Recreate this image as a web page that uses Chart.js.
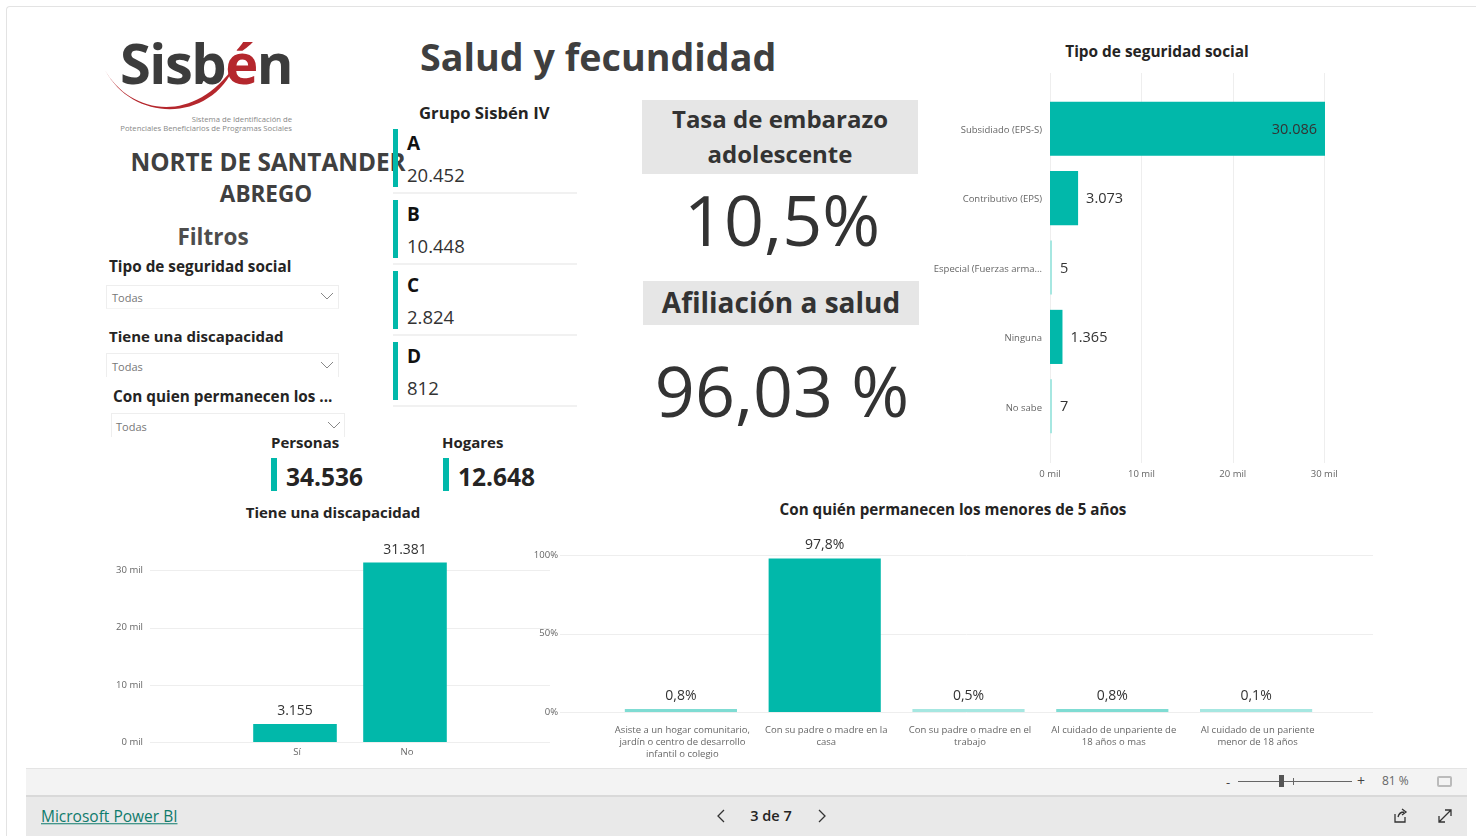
<!DOCTYPE html>
<html lang="es">
<head>
<meta charset="utf-8">
<title>Salud y fecundidad</title>
<script src="https://cdn.jsdelivr.net/npm/chart.js@4"></script>
<style>
  html, body { margin: 0; padding: 0; background: #fff; }
  body { width: 1476px; height: 840px; position: relative; overflow: hidden; font-family: "Open Sans", sans-serif; color: #252423; }
  .t { position: absolute; white-space: nowrap; line-height: 1; transform: translateY(-50%); }
  .c { transform: translate(-50%, -50%); text-align: center; }
  .b { font-weight: 700; }
  .r { position: absolute; }
  .teal { background: #01b8aa; }
  .slicer { position: absolute; border: 1px solid #eee; border-bottom-color: #f4f4f4; box-sizing: border-box; }
  .todas { font-size: 11px; color: #777; }
  .sep { position: absolute; height: 2px; background: #f1f1f1; }
  canvas { position: absolute; }
  svg { position: absolute; }
</style>
</head>
<body>
<div class="r" style="left:6px;top:6px;width:1470px;height:830px;border-left:1px solid #e3e3e3;border-top:1px solid #e3e3e3;border-top-left-radius:4px;box-sizing:border-box"></div>

<!-- logo -->
<div class="t" style="left:120px;top:62px;font-size:56px;font-weight:700;color:#3c3c3c;letter-spacing:-1.5px">Sisb<span style="color:#b5272d">é</span>n</div>
<svg style="left:100px;top:30px" width="200" height="90" viewBox="0 0 200 90">
  <path d="M5 40 C 28 82, 92 98, 135 35 C 112 92, 34 94, 5 40 Z" fill="#b5272d"/>
</svg>
<div class="t" style="right:1184px;top:120px;font-size:7.7px;color:#888">Sistema de Identificación de</div>
<div class="t" style="right:1184px;top:129px;font-size:7.7px;color:#888">Potenciales Beneficiarios de Programas Sociales</div>

<div class="t b" style="left:420px;top:57px;font-size:37.7px;color:#3f3f3f">Salud y fecundidad</div>

<div class="t c b" style="left:268px;top:162px;font-size:24.3px;color:#404040">NORTE DE SANTANDER</div>
<div class="t c b" style="left:266px;top:194px;font-size:22.5px;color:#404040">ABREGO</div>
<div class="t c b" style="left:213px;top:237px;font-size:22.5px;color:#4d4d4d">Filtros</div>

<!-- filtros -->
<div class="t b" style="left:109px;top:267px;font-size:15.3px">Tipo de seguridad social</div>
<div class="slicer" style="left:106px;top:285px;width:233px;height:24px"></div>
<div class="t todas" style="left:112px;top:297px">Todas</div>
<svg style="left:320px;top:292px" width="14" height="10"><path d="M1 1 L7 7 L13 1" fill="none" stroke="#888" stroke-width="1"/></svg>

<div class="t b" style="left:109px;top:336px;font-size:15px">Tiene una discapacidad</div>
<div class="slicer" style="left:106px;top:353px;width:233px;height:24px;border-bottom:none"></div>
<div class="t todas" style="left:112px;top:366px">Todas</div>
<svg style="left:320px;top:361px" width="14" height="10"><path d="M1 1 L7 7 L13 1" fill="none" stroke="#888" stroke-width="1"/></svg>

<div class="t b" style="left:113px;top:397px;font-size:15.3px">Con quien permanecen los ...</div>
<div class="slicer" style="left:111px;top:413px;width:234px;height:24px;border-bottom:none"></div>
<div class="t todas" style="left:116px;top:426px">Todas</div>
<svg style="left:327px;top:421px" width="14" height="10"><path d="M1 1 L7 7 L13 1" fill="none" stroke="#888" stroke-width="1"/></svg>

<!-- grupos -->
<div class="t b" style="left:419px;top:113px;font-size:16.7px;color:#252423">Grupo Sisbén IV</div>
<div id="grupos"></div>

<!-- personas / hogares -->
<div class="t b" style="left:271px;top:442px;font-size:15px">Personas</div>
<div class="r teal" style="left:271px;top:458px;width:6px;height:33px"></div>
<div class="t b" style="left:286px;top:477px;font-size:24.5px">34.536</div>
<div class="t b" style="left:442px;top:442px;font-size:15px">Hogares</div>
<div class="r teal" style="left:443px;top:458px;width:6px;height:33px"></div>
<div class="t b" style="left:458px;top:477px;font-size:24.5px">12.648</div>

<!-- KPI -->
<div class="r" style="left:642px;top:100px;width:276px;height:74px;background:#e6e6e6"></div>
<div class="t c b" style="left:780px;top:119px;font-size:24px;color:#333">Tasa de embarazo</div>
<div class="t c b" style="left:780px;top:154px;font-size:24px;color:#333">adolescente</div>
<div class="t c" style="left:782px;top:219px;font-size:70px;color:#333">10,5%</div>
<div class="r" style="left:643px;top:281px;width:276px;height:44px;background:#e6e6e6"></div>
<div class="t c b" style="left:781px;top:302px;font-size:28px;color:#333">Afiliación a salud</div>
<div class="t c" style="left:782px;top:390px;font-size:70px;color:#333">96,03 %</div>

<!-- titulos de graficos -->
<div class="t c b" style="left:1157px;top:52px;font-size:15.4px">Tipo de seguridad social</div>
<div class="t c b" style="left:333px;top:512px;font-size:15px">Tiene una discapacidad</div>
<div class="t c b" style="left:953px;top:510px;font-size:15.2px">Con quién permanecen los menores de 5 años</div>

<canvas id="chartSeguridad" width="440" height="430" style="left:920px;top:60px"></canvas>
<canvas id="chartDiscapacidad" width="460" height="235" style="left:100px;top:530px"></canvas>
<canvas id="chartPermanecen" width="850" height="235" style="left:530px;top:530px"></canvas>

<!-- barra inferior -->
<div class="r" style="left:26px;top:768px;width:1441px;height:27px;background:#f3f3f3;border-top:1px solid #e4e4e4;box-sizing:border-box"></div>
<div class="r" style="left:26px;top:795px;width:1441px;height:41px;background:#e9e9e9;border-top:2px solid #d9d9d9;box-sizing:border-box"></div>
<div class="t" style="left:1226px;top:782px;font-size:13px;color:#444">-</div>
<div class="r" style="left:1238px;top:781px;width:114px;height:1px;background:#666"></div>
<div class="r" style="left:1279px;top:775px;width:5px;height:12px;background:#555"></div>
<div class="r" style="left:1293px;top:778px;width:1px;height:7px;background:#666"></div>
<div class="t" style="left:1357px;top:781px;font-size:14px;color:#444">+</div>
<div class="t" style="left:1382px;top:781px;font-size:12px;color:#666">81 %</div>
<div class="r" style="left:1437px;top:776px;width:15px;height:11px;border:2px solid #bbb;box-sizing:border-box;border-radius:2px"></div>
<div class="t" style="left:41px;top:817px;font-size:15.5px;color:#0f7b6c;text-decoration:underline">Microsoft Power BI</div>
<svg style="left:715px;top:809px" width="14" height="14"><path d="M9 1 L3 7 L9 13" fill="none" stroke="#333" stroke-width="1.3"/></svg>
<div class="t c" style="left:771px;top:816px;font-size:14.5px;font-weight:600;color:#252423">3 de 7</div>
<svg style="left:815px;top:809px" width="14" height="14"><path d="M4 1 L10 7 L4 13" fill="none" stroke="#333" stroke-width="1.3"/></svg>
<svg style="left:1392px;top:808px" width="16" height="16"><path d="M3 6 V14 H13 V9 M6 9 C7 5 9 4 12 4 M10 1 L14 4 L10 7" fill="none" stroke="#333" stroke-width="1.3"/></svg>
<svg style="left:1437px;top:808px" width="16" height="16"><path d="M2 14 L14 2 M8 2 H14 V8 M2 8 V14 H8" fill="none" stroke="#333" stroke-width="1.3"/></svg>

<script>
// Datos
const seguridadLabels = ["Subsidiado (EPS-S)", "Contributivo (EPS)", "Especial (Fuerzas arma...", "Ninguna", "No sabe"];
const seguridadValues = [30086, 3073, 5, 1365, 7];
const seguridadText = ["30.086", "3.073", "5", "1.365", "7"];
const milTicks = [0, 10000, 20000, 30000];

const discapacidadLabels = ["Sí", "No"];
const discapacidadValues = [3155, 31381];
const discapacidadText = ["3.155", "31.381"];

const permanecenLabels = [
  ["Asiste a un hogar comunitario,", "jardín o centro de desarrollo", "infantil o colegio"],
  ["Con su padre o madre en la", "casa"],
  ["Con su padre o madre en el", "trabajo"],
  ["Al cuidado de unpariente de", "18 años o mas"],
  ["Al cuidado de un pariente", "menor de 18 años"],
];
const permanecenValues = [0.8, 97.8, 0.5, 0.8, 0.1];
const permanecenText = ["0,8%", "97,8%", "0,5%", "0,8%", "0,1%"];
const percentTicks = [0, 50, 100];

const grupoNames = ["A", "B", "C", "D"];
const grupoText = ["20.452", "10.448", "2.824", "812"];

const FONT = '"Open Sans", sans-serif';
const TEAL = "#01b8aa";

// Tarjetas del grupo Sisbén
const grupoTop = [129, 200, 271, 342];
const grupoHtml = grupoNames.map(function (name, i) {
  const top = grupoTop[i];
  return '<div class="r teal" style="left:393px;top:' + top + 'px;width:5px;height:58px"></div>' +
    '<div class="t b" style="left:407px;top:' + (top + 14) + 'px;font-size:19px;color:#111">' + name + '</div>' +
    '<div class="t" style="left:407px;top:' + (top + 46) + 'px;font-size:18.5px;color:#333">' + grupoText[i] + '</div>' +
    '<div class="sep" style="left:393px;top:' + (top + 63) + 'px;width:184px"></div>';
}).join("");
document.getElementById("grupos").innerHTML = grupoHtml;

// Las barras muy pequeñas salen más pálidas, como en el original
function barColor(limit, mid) {
  return function (ctx) {
    const v = ctx.raw;
    if (v > limit) return TEAL;
    return v >= mid ? "#7fdcd3" : "#a6e7e1";
  };
}

// Líneas de cuadrícula que sobresalen del área de las barras
const longGrid = {
  id: "longGrid",
  beforeDatasetsDraw(chart, args, opts) {
    const scale = chart.scales[opts.axis];
    const area = chart.chartArea;
    const c = chart.ctx;
    c.save();
    c.strokeStyle = "#eeeeee";
    c.lineWidth = 1;
    scale.ticks.forEach(function (tick) {
      const p = Math.round(scale.getPixelForValue(tick.value)) + 0.5;
      c.beginPath();
      if (opts.axis === "x") {
        c.moveTo(p, area.top - opts.before);
        c.lineTo(p, area.bottom + opts.after);
      } else {
        c.moveTo(area.left - opts.before, p);
        c.lineTo(area.right + opts.after, p);
      }
      c.stroke();
    });
    c.restore();
  },
};

// Etiquetas de datos
const valueLabels = {
  id: "valueLabels",
  afterDatasetsDraw(chart, args, opts) {
    const c = chart.ctx;
    c.save();
    c.font = opts.size + "px " + FONT;
    c.fillStyle = "#333";
    chart.getDatasetMeta(0).data.forEach(function (bar, i) {
      if (chart.options.indexAxis === "y") {
        const inside = bar.x > chart.chartArea.right - 60;
        c.textAlign = inside ? "right" : "left";
        c.textBaseline = "middle";
        c.fillText(opts.text[i], inside ? bar.x - 8 : bar.x + 8, bar.y + 1);
      } else {
        c.textAlign = "center";
        c.textBaseline = "bottom";
        c.fillText(opts.text[i], bar.x, bar.y - 6);
      }
    });
    c.restore();
  },
};

function keepTicks(values) {
  return function (scale) {
    scale.ticks = values.map(function (v) { return { value: v }; });
  };
}

// Fija el tamaño del eje; el padding de los ticks no debe comerse el área
function fixBox(size) {
  return function (scale) {
    if (scale.isHorizontal()) scale.height = size;
    else scale.width = size;
    scale.paddingTop = scale.paddingBottom = scale.paddingLeft = scale.paddingRight = 0;
  };
}

function createChartSeguridad() {
  new Chart(document.getElementById("chartSeguridad").getContext("2d"), {
    type: "bar",
    plugins: [longGrid, valueLabels],
    data: {
      labels: seguridadLabels,
      datasets: [{ data: seguridadValues, backgroundColor: barColor(100, 100), minBarLength: 2, barPercentage: 0.78, categoryPercentage: 1 }],
    },
    options: {
      indexAxis: "y",
      responsive: false,
      animation: false,
      layout: { padding: { top: 34, right: 35, bottom: 0, left: 0 } },
      plugins: {
        legend: { display: false },
        tooltip: { enabled: false },
        longGrid: { axis: "x", before: 21, after: 22 },
        valueLabels: { text: seguridadText, size: 14.5 },
      },
      scales: {
        x: {
          min: 0,
          max: 30086,
          afterBuildTicks: keepTicks(milTicks),
          afterFit: fixBox(49),
          grid: { display: false, drawTicks: false },
          border: { display: false },
          ticks: { padding: 28, maxRotation: 0, color: "#666", font: { family: FONT, size: 9.5 }, callback: (v) => v / 1000 + " mil" },
        },
        y: {
          afterFit: fixBox(130),
          grid: { display: false, drawTicks: false },
          border: { display: false },
          ticks: { padding: 8, labelOffset: 1.5, color: "#666", font: { family: FONT, size: 9.5 } },
        },
      },
    },
  });
}

function createChartDiscapacidad() {
  new Chart(document.getElementById("chartDiscapacidad").getContext("2d"), {
    type: "bar",
    plugins: [longGrid, valueLabels],
    data: {
      labels: discapacidadLabels,
      datasets: [{ data: discapacidadValues, backgroundColor: TEAL, barPercentage: 0.76, categoryPercentage: 1 }],
    },
    options: {
      responsive: false,
      animation: false,
      layout: { padding: { top: 29, right: 100, bottom: 0, left: 0 } },
      plugins: {
        legend: { display: false },
        tooltip: { enabled: false },
        longGrid: { axis: "y", before: 90, after: 90 },
        valueLabels: { text: discapacidadText, size: 14 },
      },
      scales: {
        x: {
          afterFit: fixBox(23),
          grid: { display: false, drawTicks: false },
          border: { display: false },
          ticks: { padding: 5, labelOffset: 2, maxRotation: 0, color: "#666", font: { family: FONT, size: 9.5 } },
        },
        y: {
          min: 0,
          max: 32000,
          afterBuildTicks: keepTicks(milTicks),
          afterFit: fixBox(140),
          grid: { display: false, drawTicks: false },
          border: { display: false },
          ticks: { padding: 97, color: "#666", font: { family: FONT, size: 9.5 }, callback: (v) => v / 1000 + " mil" },
        },
      },
    },
  });
}

function createChartPermanecen() {
  new Chart(document.getElementById("chartPermanecen").getContext("2d"), {
    type: "bar",
    plugins: [longGrid, valueLabels],
    data: {
      labels: permanecenLabels,
      datasets: [{ data: permanecenValues, backgroundColor: barColor(5, 0.7), minBarLength: 3, barPercentage: 0.78, categoryPercentage: 1 }],
    },
    options: {
      responsive: false,
      animation: false,
      layout: { padding: { top: 25, right: 52, bottom: 0, left: 0 } },
      plugins: {
        legend: { display: false },
        tooltip: { enabled: false },
        longGrid: { axis: "y", before: 49, after: 45 },
        valueLabels: { text: permanecenText, size: 14 },
      },
      scales: {
        x: {
          afterFit: fixBox(53),
          grid: { display: false, drawTicks: false },
          border: { display: false },
          ticks: { padding: 12, labelOffset: 1.5, maxRotation: 0, autoSkip: false, color: "#666", font: { family: FONT, size: 9.5, lineHeight: 1.28 } },
        },
        y: {
          min: 0,
          max: 100,
          afterBuildTicks: keepTicks(percentTicks),
          afterFit: fixBox(79),
          grid: { display: false, drawTicks: false },
          border: { display: false },
          ticks: { padding: 51, color: "#666", font: { family: FONT, size: 9.5 }, callback: (v) => v + "%" },
        },
      },
    },
  });
}

createChartSeguridad();
createChartDiscapacidad();
createChartPermanecen();
</script>
</body>
</html>
